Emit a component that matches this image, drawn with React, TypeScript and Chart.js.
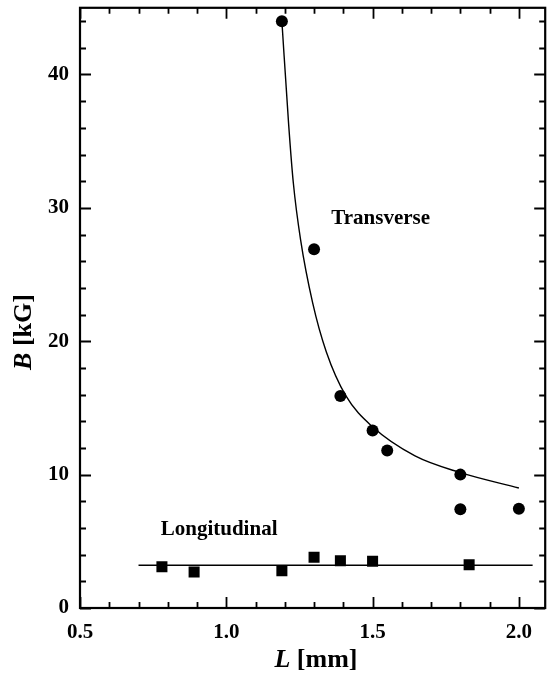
import React, { useEffect, useRef } from 'react';
import { Chart, registerables } from 'chart.js';

Chart.register(...registerables);

// Measured data (L in mm, B in kG)
const TRANSVERSE_L = [1.19, 1.3, 1.39, 1.5, 1.55, 1.8, 1.8, 2.0];
const TRANSVERSE_B = [44.0, 26.9, 15.9, 13.3, 11.8, 10.0, 7.4, 7.45];

const LONGITUDINAL_L = [0.78, 0.89, 1.19, 1.3, 1.39, 1.5, 1.83];
const LONGITUDINAL_B = [3.1, 2.7, 2.8, 3.8, 3.55, 3.5, 3.25];

// Fit curves
const TRANS_FIT_L = [1.19, 1.213, 1.229, 1.254, 1.295, 1.342, 1.409, 1.499, 1.645, 1.8, 2.0];
const TRANS_FIT_B = [44.0, 36.3, 31.9, 27.6, 22.9, 19.2, 15.9, 13.6, 11.4, 10.15, 9.0];

const LONG_FIT_L = [0.7, 2.047];
const LONG_FIT_B = [3.2, 3.2];

// Axes
const X_MIN = 0.5;
const X_MAX = 2.09;
const Y_MIN = 0;
const Y_MAX = 45;
const X_LABEL_TICKS = [0.5, 1.0, 1.5, 2.0];
const Y_LABEL_TICKS = [0, 10, 20, 30, 40];
const X_TICK_MARKS = [0.5, 0.6, 0.7, 0.8, 0.9, 1.0, 1.1, 1.2, 1.3, 1.4, 1.5, 1.6, 1.7, 1.8, 1.9, 2.0];
const Y_TICK_MARKS = [0, 2, 4, 6, 8, 10, 12, 14, 16, 18, 20, 22, 24, 26, 28, 30, 32, 34, 36, 38, 40, 42, 44];

const SERIES_LABELS = ['Transverse', 'Longitudinal'];
const SERIES_LABEL_POS_L = [1.359, 0.776];
const SERIES_LABEL_POS_B = [28.8, 5.44];

const FONT = '"Liberation Serif", "Times New Roman", Times, serif';

const zip = (xs: number[], ys: number[]) => xs.map((x, i) => ({ x, y: ys[i] }));

const isMajor = (v: number, step: number) => Math.abs(v / step - Math.round(v / step)) < 1e-6;

const framePlugin = {
  id: 'frameTicks',
  afterDraw(chart: any) {
    const { ctx, chartArea: a, scales } = chart;
    const xs = scales.x;
    const ys = scales.y;
    ctx.save();
    ctx.strokeStyle = '#000';
    ctx.fillStyle = '#000';
    ctx.lineWidth = 2.2;
    ctx.strokeRect(a.left, a.top, a.right - a.left, a.bottom - a.top);

    ctx.lineWidth = 1.8;
    ctx.beginPath();
    X_TICK_MARKS.forEach((v) => {
      const px = Math.round(xs.getPixelForValue(v)) + 0.5;
      const len = isMajor(v, 0.5) ? 11 : 6;
      ctx.moveTo(px, a.bottom);
      ctx.lineTo(px, a.bottom - len);
      ctx.moveTo(px, a.top);
      ctx.lineTo(px, a.top + len);
    });
    Y_TICK_MARKS.forEach((v) => {
      const py = Math.round(ys.getPixelForValue(v)) + 0.5;
      const len = isMajor(v, 10) ? 11 : 6;
      ctx.moveTo(a.left, py);
      ctx.lineTo(a.left + len, py);
      ctx.moveTo(a.right, py);
      ctx.lineTo(a.right - len, py);
    });
    ctx.stroke();

    // series labels
    ctx.font = `bold 21px ${FONT}`;
    ctx.textAlign = 'left';
    ctx.textBaseline = 'alphabetic';
    SERIES_LABELS.forEach((t, i) => {
      ctx.fillText(t, xs.getPixelForValue(SERIES_LABEL_POS_L[i]), ys.getPixelForValue(SERIES_LABEL_POS_B[i]));
    });

    // axis titles with mixed italic
    const drawMixed = (italicPart: string, rest: string, cx: number, by: number) => {
      ctx.font = `italic bold 26px ${FONT}`;
      const w1 = ctx.measureText(italicPart).width;
      ctx.font = `bold 26px ${FONT}`;
      const w2 = ctx.measureText(rest).width;
      const start = cx - (w1 + w2) / 2;
      ctx.textAlign = 'left';
      ctx.font = `italic bold 26px ${FONT}`;
      ctx.fillText(italicPart, start, by);
      ctx.font = `bold 26px ${FONT}`;
      ctx.fillText(rest, start + w1, by);
    };
    drawMixed('L', ' [mm]', 316, 667);

    ctx.save();
    ctx.translate(31, 332);
    ctx.rotate(-Math.PI / 2);
    drawMixed('B', ' [kG]', 0, 0);
    ctx.restore();

    ctx.restore();
  },
};

export default function App() {
  const ref = useRef<HTMLCanvasElement | null>(null);

  useEffect(() => {
    if (!ref.current) return;
    const chart = new Chart(ref.current, {
      type: 'scatter',
      data: {
        datasets: [
          {
            label: 'Transverse fit',
            data: zip(TRANS_FIT_L, TRANS_FIT_B),
            showLine: true,
            borderColor: '#000',
            borderWidth: 1.4,
            pointRadius: 0,
            cubicInterpolationMode: 'monotone',
          },
          {
            label: 'Longitudinal fit',
            data: zip(LONG_FIT_L, LONG_FIT_B),
            showLine: true,
            borderColor: '#000',
            borderWidth: 1.6,
            pointRadius: 0,
          },
          {
            label: 'Transverse',
            data: zip(TRANSVERSE_L, TRANSVERSE_B),
            pointStyle: 'circle',
            pointRadius: 6,
            backgroundColor: '#000',
            borderColor: '#000',
            borderWidth: 0,
          },
          {
            label: 'Longitudinal',
            data: zip(LONGITUDINAL_L, LONGITUDINAL_B),
            pointStyle: 'rect',
            pointRadius: 7.8,
            backgroundColor: '#000',
            borderColor: '#000',
            borderWidth: 0,
          },
        ],
      } as any,
      options: {
        responsive: false,
        animation: false,
        devicePixelRatio: 1,
        layout: { padding: { top: 4, right: 1, bottom: 0, left: 0 } },
        plugins: {
          legend: { display: false },
          tooltip: { enabled: false },
        },
        scales: {
          x: {
            type: 'linear',
            min: X_MIN,
            max: X_MAX,
            grid: { display: false, drawTicks: false },
            border: { display: false },
            afterBuildTicks: (s: any) => {
              s.ticks = X_LABEL_TICKS.map((v) => ({ value: v }));
            },
            afterFit: (s: any) => {
              s.height = 77;
              s.paddingLeft = 0;
              s.paddingRight = 0;
            },
            ticks: {
              padding: 12,
              color: '#000',
              font: { family: FONT, size: 21, weight: 'bold' },
              maxRotation: 0,
              callback: (v: any) => Number(v).toFixed(1),
            },
          },
          y: {
            type: 'linear',
            min: Y_MIN,
            max: Y_MAX,
            grid: { display: false, drawTicks: false },
            border: { display: false },
            afterBuildTicks: (s: any) => {
              s.ticks = Y_LABEL_TICKS.map((v) => ({ value: v }));
            },
            afterFit: (s: any) => {
              s.width = 80;
              s.paddingTop = 0;
              s.paddingBottom = 0;
            },
            ticks: {
              padding: 11,
              color: '#000',
              font: { family: FONT, size: 21, weight: 'bold' },
              callback: (v: any) => String(v),
            },
          },
        },
      } as any,
      plugins: [framePlugin],
    });
    return () => chart.destroy();
  }, []);

  return (
    <div style={{ position: 'absolute', left: 0, top: 0, width: 553, height: 685, background: '#fff' }}>
      <canvas ref={ref} width={553} height={685} />
    </div>
  );
}
